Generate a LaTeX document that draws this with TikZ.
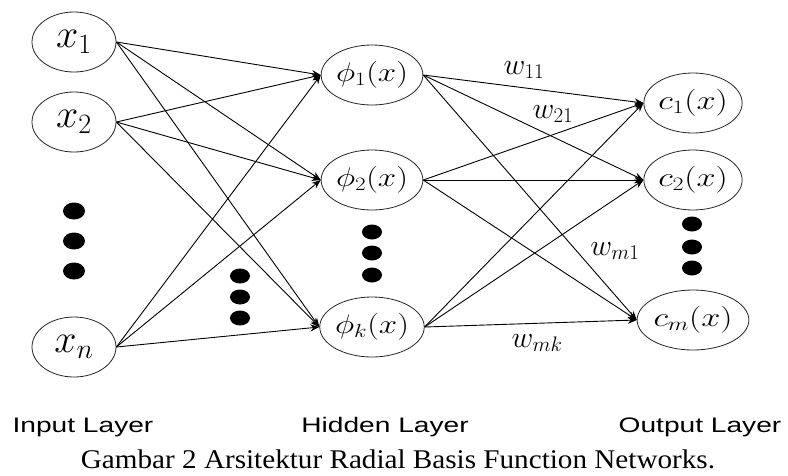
\RequirePackage{fix-cm}
\documentclass[tikz,border=0pt]{standalone}
\usepackage{fontspec}
\setmainfont{Liberation Serif}
\newfontfamily\arialf{Liberation Sans}
\usetikzlibrary{shapes.geometric,arrows.meta}
\begin{document}
\begin{tikzpicture}[x=1pt,y=-1pt,
  neuron/.style={draw=black!85, line width=0.8pt, ellipse, minimum width=84pt, minimum height=60pt, inner sep=0pt},
  dotm/.style={fill=black, ellipse, minimum width=20pt, minimum height=15pt, inner sep=0pt},
  dotin/.style={fill=black, ellipse, minimum width=22pt, minimum height=17pt, inner sep=0pt},
  conn/.style={line width=0.9pt, -{Stealth[length=9pt,width=7pt]}},
  inlab/.style={font=\fontsize{40}{40}\selectfont},
  wlab/.style={font=\fontsize{30}{30}\selectfont, inner sep=0pt},
  laylab/.style={inner sep=0pt, anchor=base, font=\arialf\fontsize{21}{22}\selectfont},
]
\useasboundingbox (0,0) rectangle (788,475);
% input layer
\node[neuron,inlab] (x1) at (74,42) {$x_1$};
\node[neuron,inlab] (x2) at (74,122) {$x_2$};
\node[neuron,inlab] (xn) at (74,347) {$x_n$};
\node[dotin] (di1) at (74,211) {};
\node[dotin] (di2) at (74,241) {};
\node[dotin] (di3) at (74,271) {};
% hidden layer
\node[neuron] (h1) at (372,75) {\scalebox{1.22}[1]{\fontsize{27}{27}\selectfont$\phi_1(x)$}};
\node[neuron] (h2) at (372,180) {\scalebox{1.22}[1]{\fontsize{27}{27}\selectfont$\phi_2(x)$}};
\node[neuron] (hk) at (372,327) {\scalebox{1.22}[1]{\fontsize{27}{27}\selectfont$\phi_k(x)$}};
\node[dotm] (dh1) at (372,232) {};
\node[dotm] (dh2) at (372,253) {};
\node[dotm] (dh3) at (372,275) {};
% middle dots
\node[dotm] (dm1) at (240,276) {};
\node[dotm] (dm2) at (240,297) {};
\node[dotm] (dm3) at (240,318) {};
% output layer
\node[neuron] (c1) at (693,103) {\scalebox{1.27}[1]{\fontsize{27}{27}\selectfont$c_1(x)$}};
\node[neuron] (c2) at (693,180) {\scalebox{1.27}[1]{\fontsize{27}{27}\selectfont$c_2(x)$}};
\node[neuron] (cm) at (693,320) {\scalebox{1.27}[1]{\fontsize{27}{27}\selectfont$c_m(x)$}};
\node[dotm] (do1) at (692,224) {};
\node[dotm] (do2) at (692,247) {};
\node[dotm] (do3) at (692,268) {};
% connections input -> hidden
\foreach \s in {x1,x2,xn}{
  \foreach \t in {h1,h2,hk}{
    \draw[conn] (\s.east) -- (\t.west);
  }
}
% connections hidden -> output
\foreach \s in {h1,h2,hk}{
  \foreach \t in {c1,c2,cm}{
    \draw[conn] (\s.east) -- (\t.west);
  }
}
% weights
\node[wlab] (w11) at (524,70) {$w_{11}$};
\node[wlab] (w21) at (553,114) {$w_{21}$};
\node[wlab] (wm1) at (615,251) {$w_{m1}$};
\node[wlab] (wmk) at (537,343) {$w_{mk}$};
% layer labels
\node[laylab] (li) at (83,432) {\scalebox{1.34}[1]{Input Layer}};
\node[laylab] (lh) at (385,432) {\scalebox{1.34}[1]{Hidden Layer}};
\node[laylab] (lo) at (700,432) {\scalebox{1.34}[1]{Output Layer}};
\node[inner sep=0pt, anchor=base, font=\fontsize{27}{28}\selectfont] (cap) at (398,468) {\scalebox{1.08}[1]{Gambar 2 Arsitektur Radial Basis Function Networks.}};
\end{tikzpicture}
\end{document}
